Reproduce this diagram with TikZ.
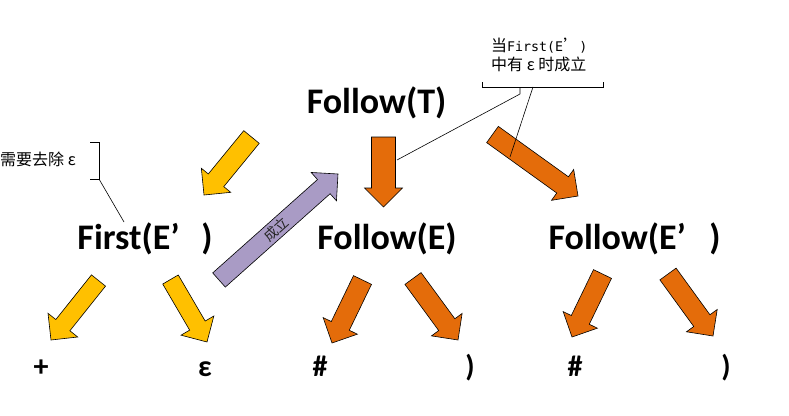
\documentclass[tikz,border=0pt]{standalone}
\usepackage{fontspec}
\setmainfont{Carlito}
\newfontfamily\cjk{Noto Sans CJK SC}
\newfontfamily\mono{DejaVu Sans Mono}
\usepackage{tikz}
\usetikzlibrary{calc}

\definecolor{gold}{HTML}{FFC000}
\definecolor{rust}{HTML}{E46C0A}
\definecolor{lilac}{HTML}{A99BC5}

% block arrow: [half shaft]{colour}{tail}{tip}
\newcommand{\blockarrow}[4][10]{%
  \coordinate (hb) at ($(#4)!19pt!(#3)$);
  \draw[fill=#2, line width=0.6pt]
    ($(#3)!#1pt!90:(#4)$) -- ($(hb)!#1pt!90:(#4)$) -- ($(hb)!19pt!90:(#4)$) -- (#4)
    -- ($(hb)!19pt!-90:(#4)$) -- ($(hb)!#1pt!-90:(#4)$) -- ($(#3)!#1pt!-90:(#4)$) -- cycle;
}

\begin{document}
\begin{tikzpicture}[x=1pt, y=-1pt,
  big/.style={font=\fontsize{36}{36}\selectfont\bfseries, inner sep=0pt},
  sym/.style={font=\fontsize{30}{30}\selectfont\bfseries, inner sep=0pt},
  note/.style={font=\cjk\fontsize{16}{19}\selectfont, align=left, inner sep=0pt}]
  \useasboundingbox (0,0) rectangle (789,415);

  \node[big] (fT) at (376.5,103) {Follow(T)};
  \node[big] (fiE) at (145,239) {First(E’\hspace{0.6em})};
  \node[big] (foE) at (387,239) {Follow(E)};
  \node[big] (foEp) at (634.5,239) {Follow(E’\hspace{0.65em})};

  \node[sym] (plus) at (41,368) {+};
  \node[sym] (eps) at (205,369) {ε};
  \node[sym] (hashA) at (320,366) {\#};
  \node[sym] (parA) at (470,368) {)};
  \node[sym] (hashB) at (575,366) {\#};
  \node[sym] (parB) at (726,368) {)};

  % arrows
  \coordinate (a1) at (251.5,137);  \coordinate (b1) at (204,195);
  \coordinate (a2) at (383.5,137);  \coordinate (b2) at (383.5,207);
  \coordinate (a3) at (492.5,134.5);\coordinate (b3) at (578,196);
  \coordinate (a4) at (98.5,280.5); \coordinate (b4) at (51,340);
  \coordinate (a5) at (170.5,279.5);\coordinate (b5) at (207,342);
  \coordinate (a6) at (362.5,280);  \coordinate (b6) at (332,343);
  \coordinate (a7) at (413,278.5);  \coordinate (b7) at (458,340);
  \coordinate (a8) at (602.5,274);  \coordinate (b8) at (572,337);
  \coordinate (a9) at (668,274);    \coordinate (b9) at (713,336);
  \coordinate (pt) at (219,280);    \coordinate (ph) at (338,174);

  \blockarrow{gold}{a1}{b1}
  \blockarrow[12]{rust}{a2}{b2}
  \blockarrow{rust}{a3}{b3}
  \blockarrow[9]{gold}{a4}{b4}
  \blockarrow[9]{gold}{a5}{b5}
  \blockarrow{rust}{a6}{b6}
  \blockarrow{rust}{a7}{b7}
  \blockarrow{rust}{a8}{b8}
  \blockarrow{rust}{a9}{b9}
  \blockarrow[9.5]{lilac}{pt}{ph}
  \path (pt) -- (ph) node[pos=0.48, sloped, font=\cjk\fontsize{14}{14}\selectfont, text=black!85, inner sep=0pt] (ok) {成立};

  % callouts
  \node[note, anchor=north west] (top) at (491,38)
    {当{\mono\fontsize{13.3}{19}\selectfont First(E}’{\mono\fontsize{13.3}{19}\selectfont )}\\中有 ε 时成立};
  \draw[line width=0.6pt] (482,82) -- (482,87) -- (603,87) -- (603,82);
  \draw[line width=0.6pt] (520,87) -- (520,94) -- (397,160);
  \draw[line width=0.6pt] (533,87) -- (510,157);

  \node[note, anchor=east] (left) at (76,159) {需要去除 ε};
  \draw[line width=0.6pt] (90,142) -- (99,142) -- (99,179) -- (90,179);
  \draw[line width=0.6pt] (99,179) -- (124,222);
\end{tikzpicture}
\end{document}
